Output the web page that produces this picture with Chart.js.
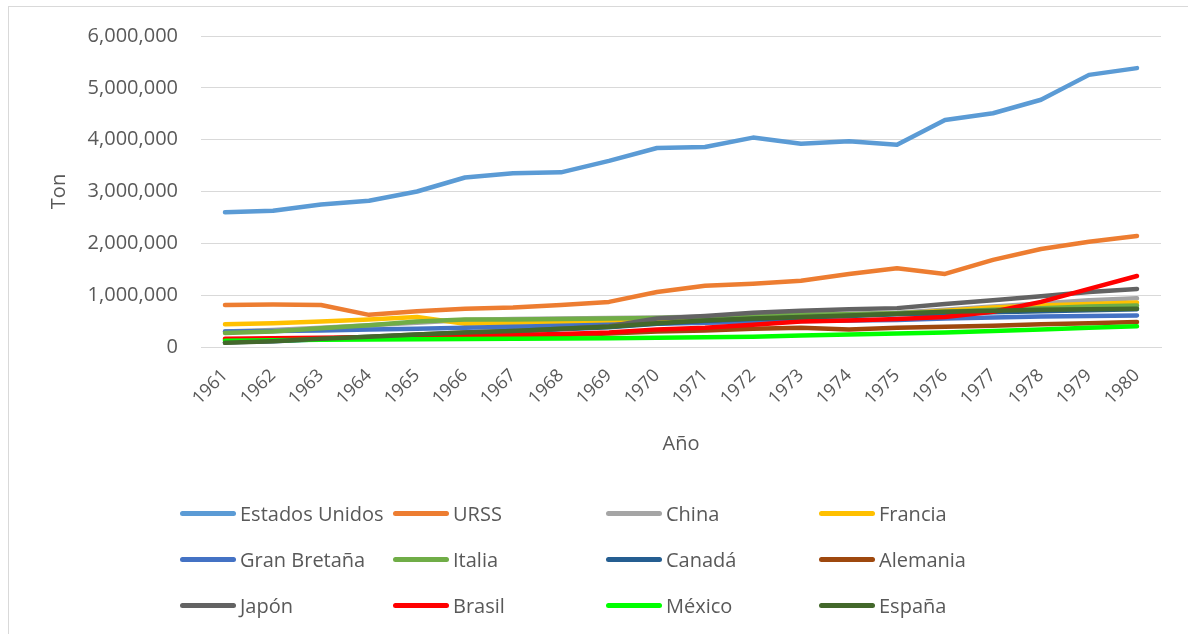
<!DOCTYPE html>
<html>
<head>
<meta charset="utf-8">
<script src="https://cdn.jsdelivr.net/npm/chart.js@4"></script>
<style>
  html, body { margin: 0; padding: 0; background: #fff; }
  body { width: 1188px; height: 634px; position: relative; overflow: hidden; font-family: "Open Sans", sans-serif; }
  #frame { position: absolute; left: 8px; top: 6px; width: 1200px; height: 700px; border: 1px solid #d9d9d9; }
  #chart { position: absolute; left: 0; top: 0; }
  #legend { position: absolute; left: 0; top: 0; width: 1188px; height: 634px; pointer-events: none; }
  .item { position: absolute; display: flex; align-items: center; font-size: 20px; color: #595959; white-space: nowrap; }
  .swatch { width: 56px; height: 5px; border-radius: 3px; margin-right: 4px; }
</style>
</head>
<body>
<div id="frame"></div>
<canvas id="chart" width="1188" height="634"></canvas>
<div id="legend"></div>
<script>
// Years on the category axis
const years = ['1961','1962','1963','1964','1965','1966','1967','1968','1969','1970',
               '1971','1972','1973','1974','1975','1976','1977','1978','1979','1980'];

// Production in tons
const estadosUnidos = [2600000,2630000,2750000,2820000,3000000,3270000,3350000,3370000,3590000,3840000,
                       3860000,4040000,3920000,3970000,3900000,4380000,4510000,4770000,5250000,5380000];
const urss = [810000,820000,810000,620000,690000,740000,760000,810000,870000,1060000,
              1180000,1220000,1280000,1410000,1520000,1410000,1680000,1890000,2030000,2140000];
const china = [300000,330000,370000,420000,470000,520000,540000,550000,560000,570000,
               590000,610000,630000,640000,660000,720000,780000,840000,900000,940000];
const francia = [440000,460000,490000,530000,580000,450000,470000,480000,500000,520000,
                 540000,560000,580000,620000,640000,700000,760000,800000,830000,860000];
const granBretana = [300000,310000,320000,340000,350000,370000,390000,410000,430000,450000,
                     470000,480000,500000,510000,520000,550000,570000,590000,600000,610000];
const italia = [270000,300000,360000,420000,490000,530000,530000,540000,550000,560000,
                580000,600000,620000,630000,650000,680000,720000,750000,780000,800000];
const canada = [90000,110000,150000,190000,230000,270000,300000,340000,380000,450000,
                500000,540000,570000,600000,630000,640000,670000,690000,710000,730000];
const alemania = [140000,150000,160000,170000,180000,200000,210000,230000,260000,300000,
                  320000,350000,370000,340000,370000,390000,410000,440000,460000,480000];
const japon = [90000,120000,160000,200000,240000,280000,310000,350000,400000,550000,
               600000,660000,700000,730000,750000,830000,900000,980000,1060000,1120000];
const brasil = [160000,170000,180000,190000,200000,210000,230000,250000,280000,340000,
                370000,430000,490000,510000,540000,580000,680000,870000,1120000,1370000];
const mexico = [120000,130000,140000,145000,150000,155000,160000,165000,170000,180000,
                190000,200000,220000,240000,260000,280000,310000,340000,370000,400000];
const espana = [80000,110000,160000,200000,240000,280000,310000,350000,390000,460000,
                510000,550000,580000,610000,640000,680000,700000,720000,730000,740000];

const seriesNames = ['Estados Unidos','URSS','China','Francia','Gran Bretaña','Italia',
                     'Canadá','Alemania','Japón','Brasil','México','España'];
const seriesValues = [estadosUnidos, urss, china, francia, granBretana, italia,
                      canada, alemania, japon, brasil, mexico, espana];
const seriesColors = ['#5B9BD5','#ED7D31','#A5A5A5','#FFC000','#4472C4','#70AD47',
                      '#255E91','#9E480E','#636363','#FF0000','#00FF00','#43682B'];

const textColor = '#595959';
const gridColor = '#d9d9d9';

const datasets = seriesNames.map((name, i) => ({
    label: name,
    data: seriesValues[i],
    borderColor: seriesColors[i],
    backgroundColor: seriesColors[i],
    borderWidth: 4.5,
    pointRadius: 0,
    tension: 0,
    borderCapStyle: 'round',
    borderJoinStyle: 'round',
    // later series are painted on top, like the original
    order: seriesNames.length - i
}));

new Chart(document.getElementById('chart'), {
    type: 'line',
    data: { labels: years, datasets: datasets },
    options: {
        responsive: false,
        animation: false,
        layout: { padding: { top: 36, right: 27, bottom: 178, left: 47 } },
        plugins: {
            legend: { display: false },
            tooltip: { enabled: false }
        },
        scales: {
            x: {
                offset: true,
                grid: { display: false },
                border: { color: gridColor, width: 1 },
                ticks: {
                    color: textColor,
                    font: { family: 'Open Sans', size: 18 },
                    minRotation: 45,
                    maxRotation: 45,
                    padding: 10
                },
                title: {
                    display: true,
                    text: 'Año',
                    color: textColor,
                    font: { family: 'Open Sans', size: 20 },
                    padding: 0
                },
                afterFit: s => { s.height = 109; }
            },
            y: {
                min: 0,
                max: 6000000,
                grid: { color: gridColor, lineWidth: 1, drawTicks: false },
                border: { display: false },
                ticks: {
                    stepSize: 1000000,
                    color: textColor,
                    font: { family: 'Open Sans', size: 20 },
                    padding: 23,
                    callback: v => v.toLocaleString('en-US')
                },
                title: {
                    display: true,
                    text: 'Ton',
                    color: textColor,
                    font: { family: 'Open Sans', size: 20 },
                    padding: { top: 0, bottom: 0 }
                },
                afterFit: s => { s.width = 154; }
            }
        }
    }
});

// Legend laid out in 4 columns like the original
const legend = document.getElementById('legend');
seriesNames.forEach((name, i) => {
    const col = i % 4;
    const row = Math.floor(i / 4);
    const item = document.createElement('div');
    item.className = 'item';
    item.style.left = (180 + col * 213) + 'px';
    item.style.top = (513 + row * 46 - 14) + 'px';
    item.style.height = '28px';
    const sw = document.createElement('div');
    sw.className = 'swatch';
    sw.style.background = seriesColors[i];
    const label = document.createElement('span');
    label.textContent = name;
    item.appendChild(sw);
    item.appendChild(label);
    legend.appendChild(item);
});
</script>
</body>
</html>
